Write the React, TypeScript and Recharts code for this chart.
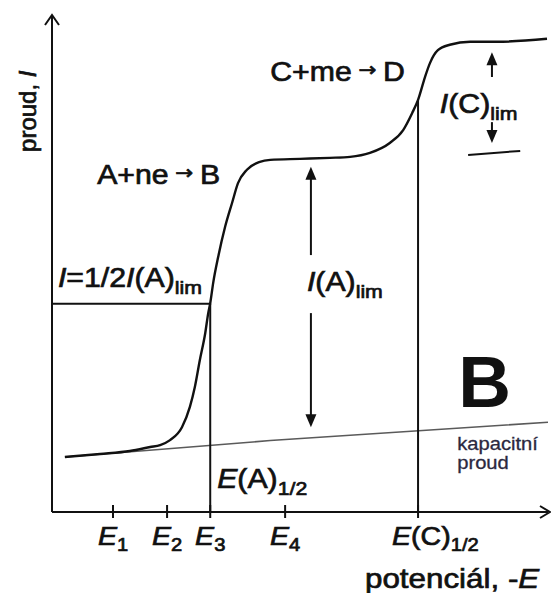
import React from 'react';
import { LineChart, Line, XAxis, YAxis, ReferenceLine, ReferenceDot } from 'recharts';

// polarogram: current I vs potential -E, arbitrary units 0..100 on both axes
const curveE = [2.6, 9.7, 15.7, 19.8, 21.8, 23.8, 26.2, 27.8, 28.8, 29.8, 30.9, 31.5, 31.9, 32.5, 33.5, 34.9, 36.3, 37.5, 39.3, 41.9, 44.0, 50.0, 56.0, 60.1, 64.1, 68.1, 70.8, 72.6, 73.8, 75.2, 76.2, 77.8, 80.2, 84.3, 89.7, 99.8];
const curveI = [11.1, 11.7, 12.3, 13.1, 13.5, 14.5, 17.1, 21.2, 25.2, 30.6, 36.1, 40.1, 42.1, 46.2, 51.4, 57.5, 62.3, 66.3, 69.0, 70.6, 71.0, 71.2, 71.4, 71.6, 72.4, 74.4, 77.0, 80.4, 83.1, 87.7, 90.5, 93.1, 94.2, 94.8, 94.8, 95.4];

// capacitive (charging) current
const baseE = [2.6, 44.0, 100];
const baseI = [11.1, 14.4, 18.1];

const tickE = [12.3, 23.2, 31.9, 47.0, 73.8];
const tickMain = ['E', 'E', 'E', 'E', 'E(C)'];
const tickSub = ['1', '2', '3', '4', '1/2'];

// half-wave points
const halfA = { E: 31.9, I: 42.0 };
const halfC = { E: 73.8, I: 83.1 };

// limiting current arrows: [tail, tip]
const limAE = 52.2;
const limAUp = [51.8, 69.6];
const limADown = [40.1, 17.1];
const limCE = 88.7;
const limCUp = [87.7, 92.7];
const limCDown = [78.6, 74.4];
const limCBaseE = [83.9, 94.4];
const limCBaseI = [72.0, 72.8];

const curve = curveE.map((E, i) => ({ E, I: curveI[i] }));
const baseline = baseE.map((E, i) => ({ E, I: baseI[i] }));

const FONT = '"Liberation Sans", Arial, Helvetica, sans-serif';
const INK = '#111';

type Part = { t: string; it?: boolean; sub?: boolean; arrow?: boolean };

const RichText = ({ x, y, parts, size, anchor = 'start', rotate = 0, fill = INK, weight = 'normal', stretch = 1.12, bold = 0.7 }: any) => {
  const subSize = Math.round(size * 0.7);
  const shift = Math.round(size * 0.25);
  const lift = Math.round(size * 0.2);
  let cur = 0;
  const spans = parts.map((p: Part, i: number) => {
    const target = p.sub ? shift : p.arrow ? -lift : 0;
    const dy = target - cur;
    cur = target;
    return (
      <tspan
        key={i}
        dy={dy || undefined}
        fontStyle={p.it ? 'italic' : undefined}
        fontSize={p.sub ? subSize : p.arrow ? Math.round(size * 0.7) : undefined}
        fontFamily={p.arrow ? '"DejaVu Sans", sans-serif' : undefined}
      >
        {p.t}
      </tspan>
    );
  });
  const tf = rotate ? `translate(${x},${y}) rotate(${rotate})` : `translate(${x},${y}) scale(${stretch},1)`;
  return (
    <text transform={tf} x={0} y={0} fontFamily={FONT} fontSize={size} fontWeight={weight} fill={fill}
      stroke={fill} strokeWidth={bold} textAnchor={anchor} style={{ whiteSpace: 'pre' }}>
      {spans}
    </text>
  );
};

const notes: any[] = [
  { E: 9.1, I: 66.1, size: 27, parts: [{ t: 'A+ne' }, { t: ' → ', arrow: true }, { t: 'B' }] },
  { E: 44.0, I: 86.9, size: 27, parts: [{ t: 'C+me' }, { t: ' → ', arrow: true }, { t: 'D' }] },
  { E: 1.2, I: 45.4, size: 27, parts: [{ t: 'I', it: true }, { t: '=1/2' }, { t: 'I', it: true }, { t: '(A)' }, { t: 'lim', sub: true }] },
  { E: 51.4, I: 44.6, size: 27, parts: [{ t: 'I', it: true }, { t: '(A)' }, { t: 'lim', sub: true }] },
  { E: 78.2, I: 80.4, size: 27, parts: [{ t: 'I', it: true }, { t: '(C)' }, { t: 'lim', sub: true }] },
  { E: 33.3, I: 4.8, size: 27, parts: [{ t: 'E', it: true }, { t: '(A)' }, { t: '1/2', sub: true }] },
  { E: 63.1, I: -15.3, size: 28, parts: [{ t: 'potenciál, -' }, { t: 'E', it: true }] },
  { E: 81.9, I: 21.2, size: 73, weight: 'bold', stretch: 1, bold: 0, parts: [{ t: 'B' }] },
  { E: 81.7, I: 12.6, size: 18, fill: '#2b2840', bold: 0.3, parts: [{ t: 'kapacitní' }] },
  { E: 81.7, I: 8.7, size: 18, fill: '#2b2840', bold: 0.3, parts: [{ t: 'proud' }] },
  { E: -3.2, I: 80.8, size: 24, rotate: -90, anchor: 'middle', parts: [{ t: 'proud, ' }, { t: 'I', it: true }] },
];

const renderTick = (p: any) => {
  const i = tickE.indexOf(p.payload.value);
  if (i < 0) return <g />;
  const wide = tickMain[i].length > 1;
  const parts = wide
    ? [{ t: 'E', it: true }, { t: '(C)' }, { t: tickSub[i], sub: true }]
    : [{ t: 'E', it: true }, { t: tickSub[i], sub: true }];
  return (
    <g>
      <line x1={p.x} x2={p.x} y1={p.y - 7} y2={p.y + 6} stroke={INK} strokeWidth={2} />
      <RichText x={wide ? p.x - 26 : p.x} y={p.y + 33} anchor={wide ? 'start' : 'middle'} size={25.5} parts={parts} />
    </g>
  );
};

const head = (up: boolean) => (p: any) => {
  const d = up ? 13 : -13;
  return <path d={`M${p.cx},${p.cy} L${p.cx - 5.5},${p.cy + d} L${p.cx + 5.5},${p.cy + d} Z`} fill={INK} />;
};

export default function App() {
  return (
    <div style={{ position: 'absolute', left: 0, top: 0, width: 551, height: 593, background: '#fff' }}>
      <LineChart width={551} height={593} margin={{ top: 16, right: 3, bottom: 0, left: 52 }}>
        <XAxis
          type="number"
          dataKey="E"
          domain={[0, 100]}
          ticks={tickE}
          interval={0}
          height={81}
          allowDataOverflow
          axisLine={{ stroke: INK, strokeWidth: 2 }}
          tickLine={false}
          tickSize={0}
          tickMargin={0}
          tick={renderTick}
        />
        <YAxis type="number" domain={[0, 100]} width={0} tick={false} tickLine={false} axisLine={false} allowDataOverflow />

        {/* current axis */}
        <ReferenceLine segment={[{ x: 0, y: 0 }, { x: 0, y: 100 }]} stroke={INK} strokeWidth={2} ifOverflow="visible" />

        <Line data={baseline} dataKey="I" type="linear" stroke="#5a5a5a" strokeWidth={1.6} dot={false} isAnimationActive={false} />
        <Line data={curve} dataKey="I" type="monotone" stroke={INK} strokeWidth={2.4} dot={false} isAnimationActive={false} />

        {/* half-wave construction */}
        <ReferenceLine segment={[{ x: 0, y: halfA.I }, { x: halfA.E, y: halfA.I }]} stroke={INK} strokeWidth={2} ifOverflow="visible" />
        <ReferenceLine segment={[{ x: halfA.E, y: 0 }, { x: halfA.E, y: halfA.I }]} stroke={INK} strokeWidth={2} ifOverflow="visible" />
        <ReferenceLine segment={[{ x: halfC.E, y: 0 }, { x: halfC.E, y: halfC.I }]} stroke={INK} strokeWidth={2} ifOverflow="visible" />

        {/* limiting currents */}
        <ReferenceLine segment={[{ x: limAE, y: limAUp[0] }, { x: limAE, y: limAUp[1] - 1 }]} stroke={INK} strokeWidth={2} ifOverflow="visible" />
        <ReferenceLine segment={[{ x: limAE, y: limADown[0] }, { x: limAE, y: limADown[1] + 1 }]} stroke={INK} strokeWidth={2} ifOverflow="visible" />
        <ReferenceLine segment={[{ x: limCE, y: limCUp[0] }, { x: limCE, y: limCUp[1] - 1 }]} stroke={INK} strokeWidth={2} ifOverflow="visible" />
        <ReferenceLine segment={[{ x: limCE, y: limCDown[0] }, { x: limCE, y: limCDown[1] + 1 }]} stroke={INK} strokeWidth={2} ifOverflow="visible" />
        <ReferenceLine segment={[{ x: limCBaseE[0], y: limCBaseI[0] }, { x: limCBaseE[1], y: limCBaseI[1] }]} stroke={INK} strokeWidth={2} ifOverflow="visible" />
        <ReferenceDot x={limAE} y={limAUp[1]} r={0} ifOverflow="visible" shape={head(true)} />
        <ReferenceDot x={limAE} y={limADown[1]} r={0} ifOverflow="visible" shape={head(false)} />
        <ReferenceDot x={limCE} y={limCUp[1]} r={0} ifOverflow="visible" shape={head(true)} />
        <ReferenceDot x={limCE} y={limCDown[1]} r={0} ifOverflow="visible" shape={head(false)} />

        {/* axis arrows */}
        <ReferenceDot x={0} y={100} r={0} ifOverflow="visible" shape={(p: any) => (
          <polyline points={`${p.cx - 7},${p.cy + 9} ${p.cx},${p.cy - 1} ${p.cx + 7},${p.cy + 9}`} fill="none" stroke={INK} strokeWidth={2} />
        )} />
        <ReferenceDot x={100} y={0} r={0} ifOverflow="visible" shape={(p: any) => (
          <polyline points={`${p.cx - 8},${p.cy - 6} ${p.cx + 2},${p.cy} ${p.cx - 8},${p.cy + 6}`} fill="none" stroke={INK} strokeWidth={2} />
        )} />

        {notes.map((n, i) => (
          <ReferenceDot key={i} x={n.E} y={n.I} r={0} ifOverflow="visible" shape={(p: any) => (
            <RichText x={p.cx} y={p.cy} parts={n.parts} size={n.size} anchor={n.anchor} rotate={n.rotate}
              fill={n.fill} weight={n.weight} stretch={n.stretch} bold={n.bold} />
          )} />
        ))}
      </LineChart>
    </div>
  );
}
